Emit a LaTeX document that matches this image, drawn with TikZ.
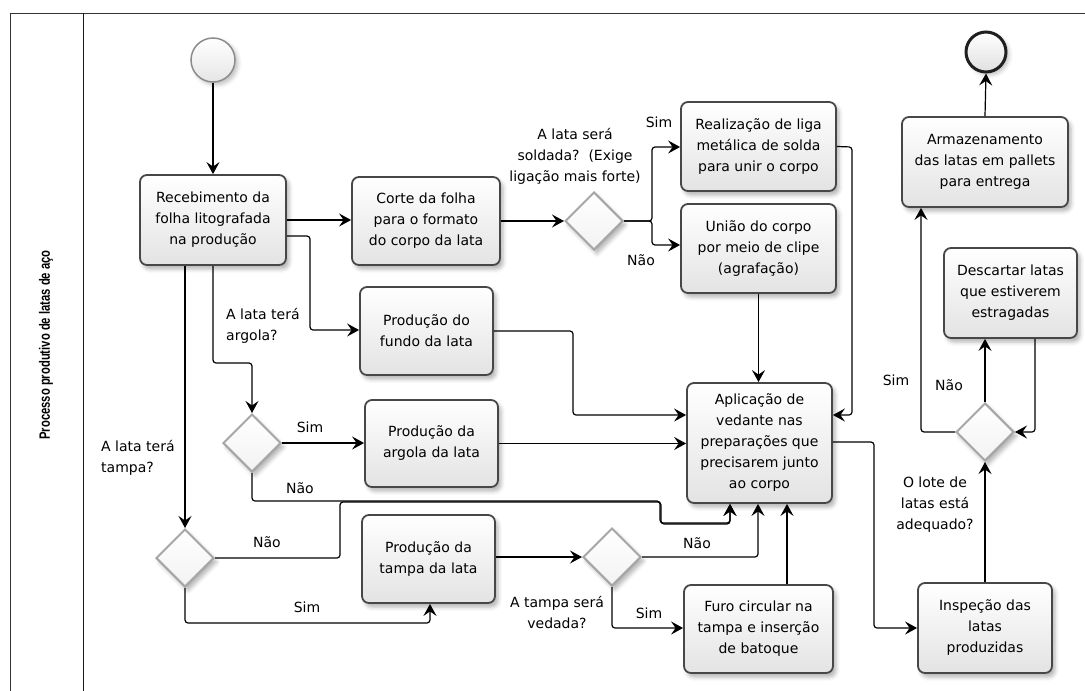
\documentclass[tikz,border=0pt]{standalone}
\usepackage{fontspec}
\setmainfont{DejaVu Sans}
\newfontfamily\poolfont{Liberation Sans}
\usetikzlibrary{arrows.meta,shapes.geometric,shadows.blur}

\begin{document}
\begin{tikzpicture}[x=1pt,y=-1pt,
  txt/.style={font=\fontsize{14}{21}\selectfont, align=center, inner sep=0pt},
  task/.style={txt, draw=black!72, line width=1.8pt, rounded corners=7pt,
    top color=white, bottom color=black!11,
    blur shadow={shadow xshift=3pt, shadow yshift=-4pt, shadow opacity=30, shadow blur radius=4pt}},
  gate/.style={diamond, aspect=1, minimum width=58pt, minimum height=58pt, inner sep=0pt,
    draw=black!35, line width=2pt, top color=white, bottom color=black!5,
    blur shadow={shadow xshift=3pt, shadow yshift=-4pt, shadow opacity=30, shadow blur radius=4pt}},
  flow/.style={draw=black, line width=1.2pt, rounded corners=3pt,
    -{Stealth[length=12pt,width=13pt,inset=4.5pt]}},
  lbl/.style={txt},
]
\useasboundingbox (0,0) rectangle (1085,691);

% pool and lane
\draw[black!80, line width=1pt] (10,691) -- (10,13) -- (1085,13);
\draw[black!90, line width=1pt] (83,13) -- (83,691);
\node[rotate=90, font=\poolfont\bfseries\fontsize{15}{17}\selectfont, inner sep=0pt] (pool) at (46,345)
  {\scalebox{0.75}[1]{Processo produtivo de latas de aço}};

% events
\node[circle, minimum size=44pt, inner sep=0pt, draw=black!45, line width=1.5pt,
  top color=white, bottom color=black!10,
  blur shadow={shadow xshift=3pt, shadow yshift=-3pt, shadow opacity=25, shadow blur radius=4pt}] (start) at (213,60) {};
\node[circle, minimum size=40pt, inner sep=0pt, draw=black!88, line width=3pt,
  top color=white, bottom color=black!12,
  blur shadow={shadow xshift=3pt, shadow yshift=-3pt, shadow opacity=25, shadow blur radius=4pt}] (end) at (986,52) {};

% tasks
\node[task, minimum width=146pt, minimum height=90pt] (rec) at (213,220) {Recebimento da\\folha litografada\\na produção};
\node[task, minimum width=148pt, minimum height=88pt] (corte) at (426,221) {Corte da folha\\para o formato\\do corpo da lata};
\node[task, minimum width=155pt, minimum height=89pt] (real) at (758.5,146.5) {Realização de liga\\metálica de solda\\para unir o corpo};
\node[task, minimum width=155pt, minimum height=89pt] (uniao) at (758.5,248.5) {União do corpo\\por meio de clipe\\(agrafação)};
\node[task, minimum width=133pt, minimum height=88pt] (fundo) at (426.5,331) {Produção do\\fundo da lata};
\node[task, minimum width=133pt, minimum height=87pt] (argola) at (431.5,443.5) {Produção da\\argola da lata};
\node[task, minimum width=133pt, minimum height=88pt] (tampa) at (428.5,559) {Produção da\\tampa da lata};
\node[task, minimum width=145pt, minimum height=120pt] (apl) at (759.5,443) {Aplicação de\\vedante nas\\preparações que\\precisarem junto\\ao corpo};
\node[task, minimum width=149pt, minimum height=88pt] (furo) at (758.5,629) {Furo circular na\\tampa e inserção\\de batoque};
\node[task, minimum width=166pt, minimum height=90pt] (arm) at (985,162) {Armazenamento\\das latas em pallets\\para entrega};
\node[task, minimum width=133pt, minimum height=90pt] (desc) at (1010.5,293) {Descartar latas\\que estiverem\\estragadas};
\node[task, minimum width=134pt, minimum height=90pt] (insp) at (985,628) {Inspeção das\\latas\\produzidas};

% gateways
\node[gate] (d1) at (594,221) {};
\node[gate] (dA) at (252,443) {};
\node[gate] (dT) at (185,558) {};
\node[gate] (d2) at (612,557) {};
\node[gate] (dF) at (985,432) {};

% sequence flows
\draw[flow] (start) -- (rec);
\draw[flow] (rec.east) -- (corte.west |- rec.east);
\draw[flow] (rec.east |- 0,236) -- (310,236) -- (310,330) -- (fundo.west |- 0,330);
\draw[flow] (corte.east) -- (d1.west);
\draw[flow] (d1.east) -- (652,221) -- (652,147) -- (real.west |- 0,147);
\draw[flow] (d1.east) -- (652,221) -- (652,245) -- (uniao.west |- 0,245);
\draw[flow] (uniao.south) -- (uniao.south |- apl.north);
\draw[flow] (real.east) -- (852,147) -- (852,415) -- (apl.east |- 0,415);
\draw[flow] (fundo.east) -- (573,331) -- (573,415) -- (apl.west |- 0,415);
\draw[flow] (argola.east) -- (apl.west |- argola.east);
\draw[flow] (rec.south) -- (213,363) -- (252,363) -- (dA.north);
\draw[flow] (rec.south -| 185,0) -- (dT.north);
\draw[flow] (dA.east) -- (argola.west |- dA.east);
\draw[flow] (dA.south) -- (252,501) -- (660,501) -- (660,523) -- (730,523) -- (apl.south -| 730,0);
\draw[flow] (dT.east) -- (340,558) -- (340,502) -- (661,502) -- (661,524) -- (730,524) -- (apl.south -| 730,0);
\draw[flow] (dT.south) -- (185,623) -- (430,623) -- (tampa.south -| 430,0);
\draw[flow] (tampa.east |- d2.west) -- (d2.west);
\draw[flow] (d2.east) -- (758,557) -- (apl.south -| 758,0);
\draw[flow] (d2.south) -- (612,628) -- (furo.west |- 0,628);
\draw[flow] (furo.north -| 787,0) -- (apl.south -| 787,0);
\draw[flow] (apl.east |- 0,442) -- (874,442) -- (874,628) -- (insp.west);
\draw[flow] (insp.north) -- (dF.south);
\draw[flow] (dF.north) -- (desc.south -| dF.north);
\draw[flow] (dF.west) -- (921,432) -- (arm.south -| 921,0);
\draw[flow] (desc.south -| 1035,0) -- (1035,432) -- (dF.east);
\draw[flow] (arm.north) -- (end.south);

% gateway and flow labels
\node[lbl] (q1) at (575,156) {A lata será\\soldada?\ \ (Exige\\ligação mais forte)};
\node[lbl] (q1s) at (659,122) {Sim};
\node[lbl] (q1n) at (641,260) {Não};
\node[lbl, align=left, anchor=west] (qA) at (226,326) {A lata terá\\argola?};
\node[lbl] (qAs) at (310,427) {Sim};
\node[lbl] (qAn) at (300,488) {Não};
\node[lbl, align=left, anchor=west] (qT) at (101,458) {A lata terá\\tampa?};
\node[lbl] (qTn) at (267,542) {Não};
\node[lbl] (qTs) at (307,607) {Sim};
\node[lbl] (q2) at (557,612) {A tampa será\\vedada?};
\node[lbl] (q2n) at (697,543) {Não};
\node[lbl] (q2s) at (649,613) {Sim};
\node[lbl] (qF) at (935,505) {O lote de\\latas está\\adequado?};
\node[lbl] (qFs) at (896,380) {Sim};
\node[lbl] (qFn) at (949,385) {Não};
\end{tikzpicture}
\end{document}
